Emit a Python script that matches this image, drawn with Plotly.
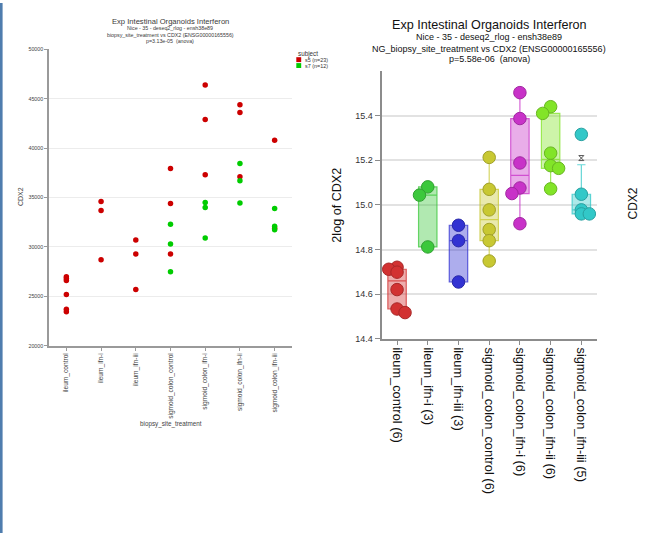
import math
import numpy as np
import plotly.graph_objects as go

W, H = 649, 538
FONT = "Liberation Sans, Arial, sans-serif"

categories = ["ileum_control", "ileum_ifn-i", "ileum_ifn-iii", "sigmoid_colon_control",
              "sigmoid_colon_ifn-i", "sigmoid_colon_ifn-ii", "sigmoid_colon_ifn-iii"]

# CDX2 normalised expression per subject, one list per biopsy_site_treatment group
s5_expr = [[27000, 26800, 26600, 25200, 23700, 23450],
           [34600, 33700, 28700],
           [30700, 29300, 25700],
           [37950, 34400, 29300],
           [46400, 42900, 37300],
           [44400, 43600, 37100],
           [40800, 31900]]
s7_expr = [[], [], [],
           [32300, 30300, 27500],
           [34500, 34000, 30900],
           [38450, 36700, 34450],
           [33900, 32100, 31750]]

# 2log of CDX2 per NG_biopsy_site_treatment group
log_ileum_control = [14.721, 14.712, 14.699, 14.621, 14.534, 14.518]
log_ileum_ifn_i = [15.081, 15.044, 14.812]
log_ileum_ifn_iii = [14.909, 14.840, 14.655]
log_sigmoid_control = [15.213, 15.070, 14.978, 14.890, 14.840, 14.749]
log_sigmoid_ifn_i = [15.503, 15.387, 15.188, 15.076, 15.051, 14.916]
log_sigmoid_ifn_ii = [15.440, 15.410, 15.232, 15.176, 15.164, 15.072]
log_sigmoid_ifn_iii = [15.316, 15.048, 14.978, 14.960, 14.960]
log_groups = [log_ileum_control, log_ileum_ifn_i, log_ileum_ifn_iii, log_sigmoid_control,
              log_sigmoid_ifn_i, log_sigmoid_ifn_ii, log_sigmoid_ifn_iii]

# extra outlier glyph drawn above the last group's whisker
outlier_glyph_group = 6
outlier_glyph_value = 15.21

# sideways dodge of overlapping points (category units)
dodge = [[0, -0.27, 0, 0, 0, 0.26],
         [0, -0.27, 0],
         [0, 0, 0],
         [0, 0, 0, 0, 0, 0],
         [0, 0, 0, 0, -0.26, 0],
         [0, -0.26, 0, 0, 0.26, 0],
         [0, 0, 0, 0, 0.26]]

group_colors = [(210, 50, 50), (60, 200, 60), (50, 50, 210), (200, 200, 50),
                (200, 50, 200), (130, 228, 40), (50, 200, 200)]


def rgba(c, a):
    return "rgba(%d,%d,%d,%.2f)" % (c[0], c[1], c[2], a)


def darker(c, f=0.8):
    return "rgb(%d,%d,%d)" % tuple(int(v * f) for v in c)


def px_x(x):
    return x / W


def px_y(y):
    return 1 - y / H


def box_stats(vals):
    s = sorted(vals)
    n = len(s)
    q1 = s[math.ceil(0.25 * n) - 1]
    q3 = s[math.ceil(0.75 * n) - 1]
    med = float(np.median(s))
    iqr = q3 - q1
    lo = max(s[0], q1 - 1.5 * iqr)
    hi = min(s[-1], q3 + 1.5 * iqr)
    return q1, med, q3, lo, hi


fig = go.Figure()

# ---- left panel: expression per subject ----
xs5 = [i for i, g in enumerate(s5_expr) for _ in g]
ys5 = [v for g in s5_expr for v in g]
xs7 = [i for i, g in enumerate(s7_expr) for _ in g]
ys7 = [v for g in s7_expr for v in g]
fig.add_trace(go.Scatter(x=xs5, y=ys5, mode="markers", xaxis="x", yaxis="y",
                         marker=dict(size=5.5, color="rgb(204,0,0)"),
                         showlegend=False, hoverinfo="skip"))
fig.add_trace(go.Scatter(x=xs7, y=ys7, mode="markers", xaxis="x", yaxis="y",
                         marker=dict(size=5.5, color="rgb(0,204,0)"),
                         showlegend=False, hoverinfo="skip"))

# ---- right panel: box plots of 2log values ----
for i, vals in enumerate(log_groups):
    q1, med, q3, lo, hi = box_stats(vals)
    c = group_colors[i]
    fig.add_trace(go.Box(x=[i], q1=[q1], median=[med], q3=[q3],
                         lowerfence=[lo], upperfence=[hi],
                         width=0.6, whiskerwidth=0.45, boxpoints=False,
                         fillcolor=rgba(c, 0.4),
                         line=dict(color=rgba(c, 0.75), width=1.2),
                         xaxis="x2", yaxis="y2", showlegend=False, hoverinfo="skip"))
for i, vals in enumerate(log_groups):
    c = group_colors[i]
    fig.add_trace(go.Scatter(x=[i + d for d in dodge[i]], y=vals, mode="markers",
                             xaxis="x2", yaxis="y2",
                             marker=dict(size=12.5, color="rgb(%d,%d,%d)" % c,
                                         line=dict(color=darker(c), width=1)),
                             showlegend=False, hoverinfo="skip"))
fig.add_trace(go.Scatter(x=[outlier_glyph_group], y=[outlier_glyph_value], mode="markers",
                         xaxis="x2", yaxis="y2",
                         marker=dict(symbol="hourglass-open", size=5, color="#555",
                                     line=dict(color="#555", width=1)),
                         showlegend=False, hoverinfo="skip"))

right_ticks = ["%s (%d)" % (c, len(v)) for c, v in zip(categories, log_groups)]
left_yticks = list(range(20000, 50001, 5000))
right_yticks = [14.4, 14.6, 14.8, 15.0, 15.2, 15.4]

ann = []


def text(x, y, s, size, color="#222", angle=0, xanchor="center"):
    ann.append(dict(x=px_x(x), y=px_y(y), xref="paper", yref="paper", text=s,
                    showarrow=False, textangle=angle, xanchor=xanchor, yanchor="middle",
                    font=dict(family=FONT, size=size, color=color)))


# left panel titles
text(170, 18.3, "Exp Intestinal Organoids Interferon", 7.6, "#3a3a3a")
text(170, 25.3, "Nice - 35 - deseq2_rlog - ensh38e89", 5.3, "#3a3a3a")
text(170, 32.3, "biopsy_site_treatment vs CDX2 (ENSG00000165556)", 5.3, "#3a3a3a")
text(170, 38.7, "p=3.13e-05 \u00a0(anova)", 5.3, "#3a3a3a")
text(20, 197, "CDX2", 7, "#444", angle=-90)
text(171, 427, "biopsy_site_treatment", 6.3, "#444")

# left legend
n_s5 = sum(len(g) for g in s5_expr)
n_s7 = sum(len(g) for g in s7_expr)
text(296, 51.3, "subject", 6.3, "#333", xanchor="left")
text(302.5, 57.6, "s5 (n=%d)" % n_s5, 5.4, "#333", xanchor="left")
text(302.5, 63.6, "s7 (n=%d)" % n_s7, 5.4, "#333", xanchor="left")

# right panel titles
text(489, 22.4, "Exp Intestinal Organoids Interferon", 12.6, "#111")
text(489, 34.3, "Nice - 35 - deseq2_rlog - ensh38e89", 9, "#111")
text(489, 46.3, "NG_biopsy_site_treatment vs CDX2 (ENSG00000165556)", 9, "#111")
text(489, 57.2, "p=5.58e-06 \u00a0(anova)", 9, "#111")
text(336.7, 205, "2log of CDX2", 12.6, "#111", angle=-90)
text(632.5, 204, "CDX2", 12, "#111", angle=-90)

shapes = [
    dict(type="rect", xref="paper", yref="paper", x0=0, x1=px_x(2.6), y0=0, y1=1,
         fillcolor="#4f7dae", line=dict(width=0), layer="above"),
    dict(type="rect", xref="paper", yref="paper", x0=px_x(296.3), x1=px_x(301.2),
         y0=px_y(60), y1=px_y(55), fillcolor="rgb(204,0,0)", line=dict(width=0)),
    dict(type="rect", xref="paper", yref="paper", x0=px_x(296.3), x1=px_x(301.2),
         y0=px_y(66), y1=px_y(61), fillcolor="rgb(0,204,0)", line=dict(width=0)),
]

fig.update_layout(
    width=W, height=H, autosize=False,
    margin=dict(l=0, r=0, t=0, b=0),
    paper_bgcolor="white", plot_bgcolor="white",
    font=dict(family=FONT),
    showlegend=False,
    annotations=ann, shapes=shapes,
    xaxis=dict(domain=[px_x(49), px_x(292)], range=[-0.5, 6.5], anchor="y",
               tickmode="array", tickvals=list(range(7)), ticktext=categories,
               tickangle=-90, showgrid=False, zeroline=False,
               showline=True, linecolor="#9a9a9a", linewidth=1.5,
               ticks="outside", ticklen=3, tickcolor="#9a9a9a",
               tickfont=dict(size=6.6, color="#444")),
    yaxis=dict(domain=[px_y(348), px_y(47)], range=[20000, 50000], anchor="x",
               tickmode="array", tickvals=left_yticks, tickformat="d",
               showgrid=True, gridcolor="#ececec", gridwidth=1, zeroline=False,
               showline=True, linecolor="#9a9a9a", linewidth=1.5,
               ticks="outside", ticklen=3, tickcolor="#9a9a9a",
               tickfont=dict(size=5.3, color="#444")),
    xaxis2=dict(domain=[px_x(381.7), px_x(596.7)], range=[-0.5, 6.5], anchor="y2",
                tickmode="array", tickvals=list(range(7)), ticktext=right_ticks,
                tickangle=90, showgrid=False, zeroline=False,
                showline=True, linecolor="#8c8c8c", linewidth=2,
                ticks="outside", ticklen=4, tickcolor="#8c8c8c",
                tickfont=dict(size=12.8, color="#111")),
    yaxis2=dict(domain=[px_y(341), px_y(69)], range=[14.4, 15.6], anchor="x2",
                tickmode="array", tickvals=right_yticks,
                ticktext=["%.1f" % v for v in right_yticks],
                showgrid=True, gridcolor="#e2e2e2", gridwidth=1.5, zeroline=False,
                showline=True, linecolor="#8c8c8c", linewidth=2,
                ticks="outside", ticklen=5, tickcolor="#8c8c8c",
                tickfont=dict(size=9, color="#333")),
)

fig.write_html("out.html")
